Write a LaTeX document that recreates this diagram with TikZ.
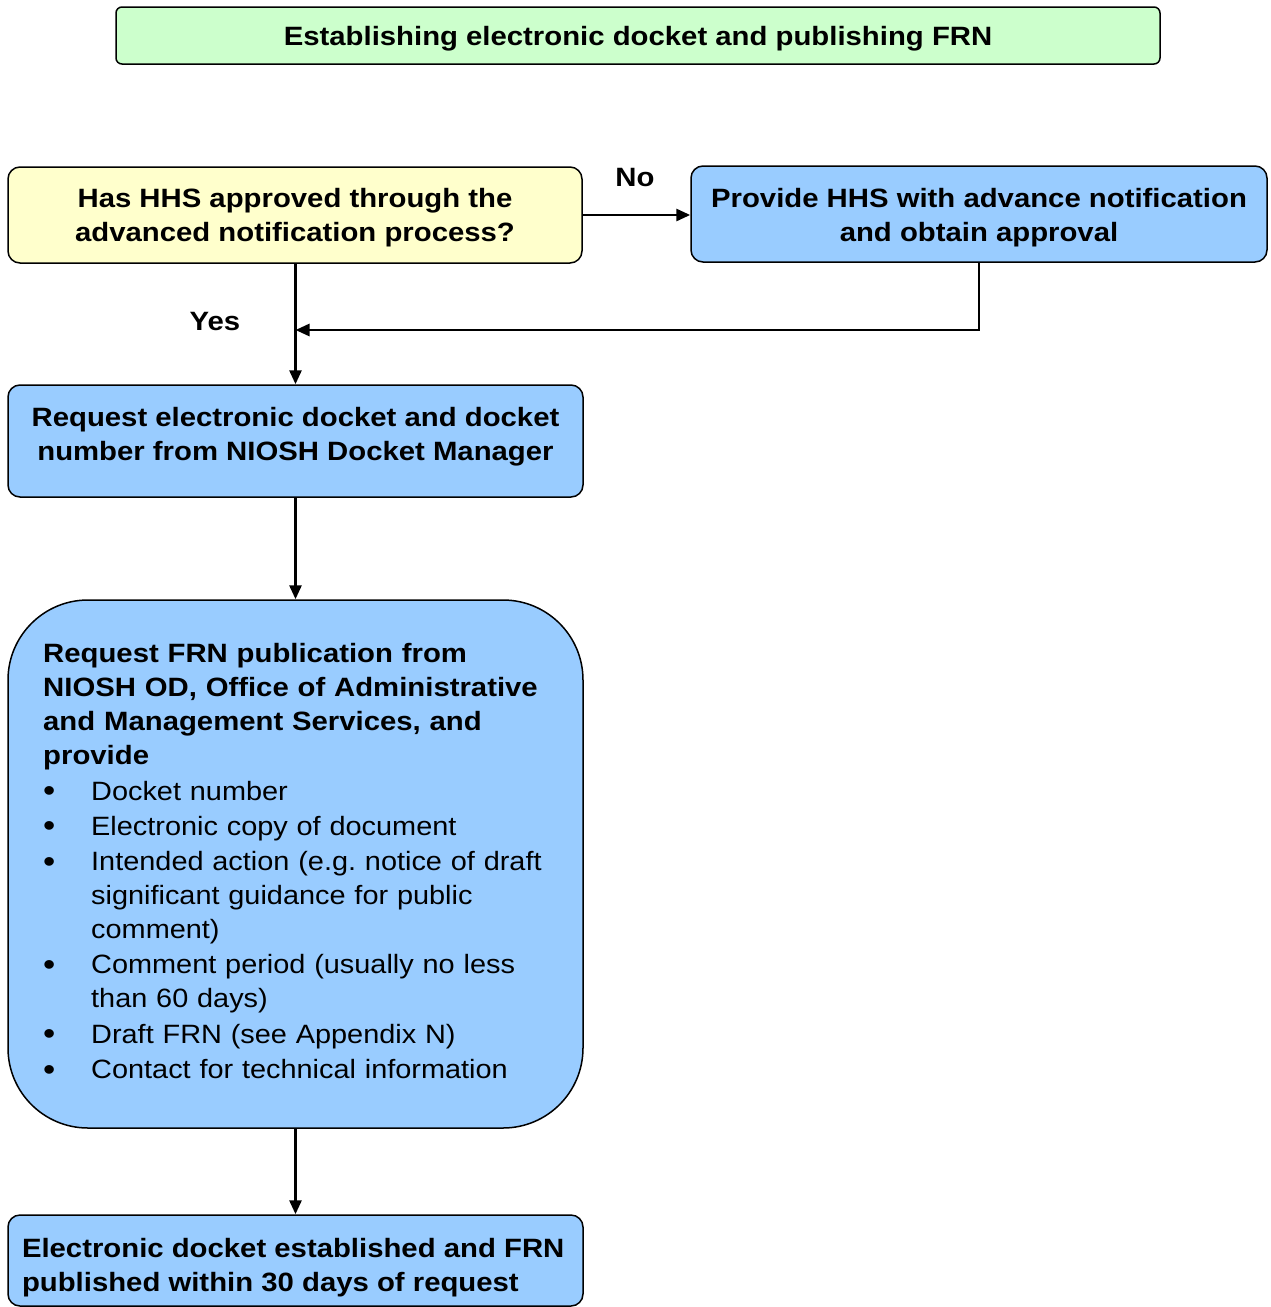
\documentclass[tikz,border=0pt]{standalone}
\usepackage{fontspec}
\usepackage{graphicx}
\setmainfont{Liberation Sans}[FakeStretch=1.09,BoldFeatures={FakeStretch=1.106}]
\usetikzlibrary{arrows.meta}
\definecolor{boxgreen}{HTML}{CCFFCC}
\definecolor{boxyellow}{HTML}{FFFFCC}
\definecolor{boxblue}{HTML}{99CCFF}
\frenchspacing
\newcommand{\boxtext}[3]{\raisebox{#1}[\height][\depth]{\begin{tabular}{@{}#2@{}}#3\end{tabular}}}
\newenvironment{blist}{\begin{list}{\raisebox{-1.5pt}{\fontsize{32}{34}\selectfont\textbullet}}{\setlength{\leftmargin}{48pt}\setlength{\labelwidth}{48pt}\setlength{\labelsep}{0pt}\setlength{\itemsep}{1.3pt}\setlength{\parsep}{0pt}\setlength{\topsep}{2pt}\setlength{\partopsep}{0pt}\renewcommand{\makelabel}[1]{##1\hfill}}}{\end{list}}
\begin{document}
\begin{tikzpicture}[x=1pt,y=-1pt,
  every node/.style={font=\fontsize{26.5}{34}\selectfont},
  box/.style={draw=black, line width=1.5pt, rounded corners=12pt, inner sep=0pt, font=\fontsize{26.5}{34}\selectfont\bfseries},
  arr/.style={line width=2.8pt, -{Triangle[length=14pt,width=12pt]}},
  lbl/.style={font=\fontsize{26.5}{34}\selectfont\bfseries, anchor=base, inner sep=0pt}]
\useasboundingbox (0,0) rectangle (1270,1307);

\node[box, fill=boxgreen, rounded corners=6pt, minimum width=1044pt, minimum height=57pt] (title) at (638,35.5) {\boxtext{-2.7pt}{c}{Establishing electronic docket and publishing FRN}};

\node[box, fill=boxyellow, minimum width=574pt, minimum height=96pt] (dec) at (295,215) {\boxtext{-2.2pt}{c}{Has HHS approved through the\\advanced notification process?}};

\node[box, fill=boxblue, minimum width=576pt, minimum height=96pt] (prov) at (979,214) {\boxtext{-3.2pt}{c}{Provide HHS with advance notification\\and obtain approval}};

\node[box, fill=boxblue, minimum width=575pt, minimum height=112pt] (req) at (295.5,441) {\boxtext{4.8pt}{c}{Request electronic docket and docket\\number from NIOSH Docket Manager}};

\node[box, fill=boxblue, rounded corners=80pt, minimum width=575pt, minimum height=528pt] (pub) at (295.5,864) {};

\node[anchor=base west, inner sep=0pt, text width=530pt, align=left] (pubtext) at (43,662) {\raggedright
{\bfseries Request FRN publication from\\NIOSH OD, Office of Administrative\\and Management Services, and\\provide\par}
\begin{blist}
\item Docket number
\item Electronic copy of document
\item Intended action (e.g. notice of draft\newline significant guidance for public\newline comment)
\item Comment period (usually no less\newline than 60 days)
\item Draft FRN (see Appendix N)
\item Contact for technical information
\end{blist}};

\node[box, fill=boxblue, minimum width=575pt, minimum height=91pt] (fin) at (295.5,1260.5) {\makebox[547pt][l]{\boxtext{-6.7pt}{l}{Electronic docket established and FRN\\published within 30 days of request}}};

\coordinate (merge) at (295.5,330);

\draw[arr] (dec.east) -- (dec.east -| prov.west);
\draw[arr] (prov.south) |- (merge);
\draw[arr] (req.north |- dec.south) -- (req.north);
\draw[arr] (req.south) -- (pub.north);
\draw[arr] (pub.south) -- (fin.north);

\node[lbl] (no) at (635,186.5) {No};
\node[lbl] (yes) at (215,330.5) {Yes};
\end{tikzpicture}
\end{document}
